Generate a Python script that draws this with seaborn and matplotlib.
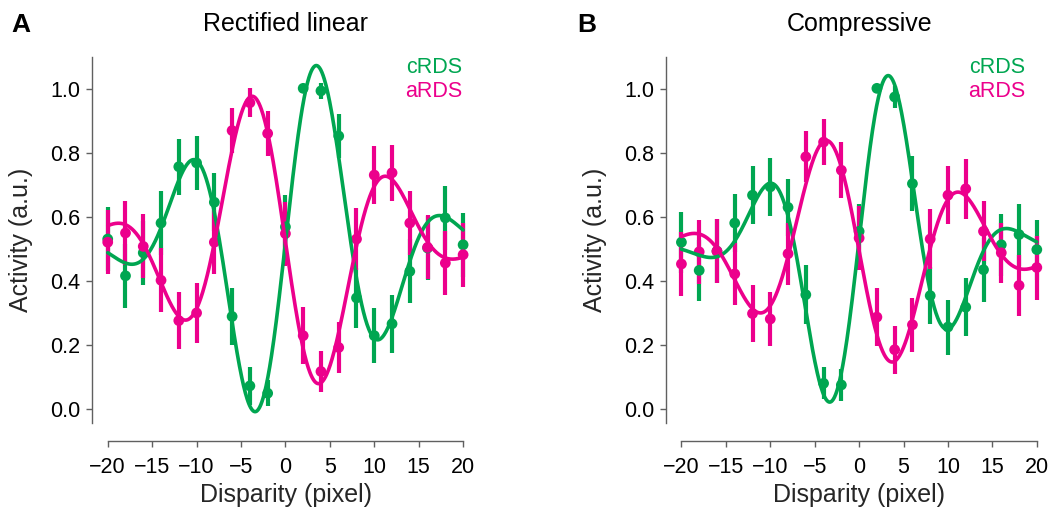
import numpy as np
import pandas as pd
import matplotlib
matplotlib.use("Agg")
import matplotlib.pyplot as plt
import seaborn as sns
from matplotlib.transforms import blended_transform_factory

# ---------------- data ----------------
disparity = [-20, -18, -16, -14, -12, -10, -8, -6, -4, -2, 0,
             2, 4, 6, 8, 10, 12, 14, 16, 18, 20]

lin_c = [0.530, 0.415, 0.487, 0.580, 0.756, 0.768, 0.645, 0.288, 0.071, 0.048, 0.568,
         1.001, 0.993, 0.852, 0.346, 0.228, 0.265, 0.429, 0.502, 0.596, 0.512]
lin_c_err = [0.10, 0.10, 0.10, 0.10, 0.088, 0.085, 0.09, 0.09, 0.06, 0.04, 0.10,
             0.015, 0.025, 0.07, 0.095, 0.085, 0.09, 0.10, 0.10, 0.10, 0.10]
lin_a = [0.520, 0.549, 0.507, 0.401, 0.275, 0.299, 0.520, 0.869, 0.956, 0.860, 0.547,
         0.228, 0.116, 0.191, 0.530, 0.730, 0.737, 0.580, 0.504, 0.455, 0.481]
lin_a_err = [0.10, 0.10, 0.10, 0.10, 0.09, 0.093, 0.10, 0.07, 0.045, 0.07, 0.10,
             0.088, 0.065, 0.08, 0.097, 0.09, 0.088, 0.10, 0.10, 0.10, 0.10]

cmp_c = [0.520, 0.432, 0.492, 0.580, 0.667, 0.693, 0.629, 0.356, 0.079, 0.074, 0.554,
         1.001, 0.974, 0.703, 0.353, 0.255, 0.317, 0.434, 0.512, 0.544, 0.497]
cmp_c_err = [0.095, 0.095, 0.10, 0.09, 0.09, 0.09, 0.09, 0.092, 0.05, 0.05, 0.085,
             0.015, 0.035, 0.085, 0.09, 0.086, 0.09, 0.10, 0.097, 0.097, 0.094]
cmp_a = [0.452, 0.490, 0.492, 0.421, 0.297, 0.280, 0.484, 0.787, 0.833, 0.745, 0.533,
         0.286, 0.184, 0.262, 0.530, 0.667, 0.687, 0.554, 0.487, 0.385, 0.441]
cmp_a_err = [0.10, 0.10, 0.10, 0.097, 0.09, 0.085, 0.097, 0.08, 0.073, 0.087, 0.10,
             0.09, 0.075, 0.085, 0.095, 0.09, 0.093, 0.094, 0.094, 0.095, 0.10]

panel_titles = ["Rectified linear", "Compressive"]
panel_letters = ["A", "B"]
series_names = ["cRDS", "aRDS"]
x_ticks = [-20, -15, -10, -5, 0, 5, 10, 15, 20]
y_ticks = [0.0, 0.2, 0.4, 0.6, 0.8, 1.0]

GREEN = "#00A651"
MAGENTA = "#EC008C"
SPINE = "#606060"


def fit_gabor(x, y):
    """Least-squares Gabor fit: b + exp(-(x-x0)^2/2s^2)(a cos 2pi f x + c sin 2pi f x)."""
    x = np.asarray(x, float)
    y = np.asarray(y, float)

    def search(x0s, ss, fs):
        X0, S, F = np.meshgrid(x0s, ss, fs, indexing="ij")
        X0, S, F = X0.ravel(), S.ravel(), F.ravel()
        env = np.exp(-(x[None, :] - X0[:, None]) ** 2 / (2 * S[:, None] ** 2))
        ph = 2 * np.pi * F[:, None] * x[None, :]
        A = np.stack([np.ones_like(env), env * np.cos(ph), env * np.sin(ph)], axis=2)
        AtA = np.einsum("nki,nkj->nij", A, A) + 1e-9 * np.eye(3)
        Aty = np.einsum("nki,k->ni", A, y)
        coef = np.linalg.solve(AtA, Aty[..., None])[..., 0]
        pred = np.einsum("nki,ni->nk", A, coef)
        sse = ((pred - y) ** 2).sum(axis=1)
        i = np.argmin(sse)
        return X0[i], S[i], F[i], coef[i]

    x0, s, f, coef = search(np.linspace(-4, 4, 33), np.linspace(3, 20, 35),
                            np.linspace(0.03, 0.14, 45))
    for scale in (0.25, 0.06):
        x0, s, f, coef = search(np.linspace(x0 - 4 * scale, x0 + 4 * scale, 17),
                                np.linspace(max(1.5, s - 8 * scale), s + 8 * scale, 17),
                                np.linspace(f - 0.01 * scale * 4, f + 0.01 * scale * 4, 17))

    def model(xx):
        env = np.exp(-(xx - x0) ** 2 / (2 * s ** 2))
        ph = 2 * np.pi * f * xx
        return coef[0] + env * (coef[1] * np.cos(ph) + coef[2] * np.sin(ph))
    return model


# ---------------- figure ----------------
sns.set_theme(style="ticks")
plt.rcParams["font.family"] = ["Liberation Sans", "DejaVu Sans"]

fig = plt.figure(figsize=(10.56, 5.17), dpi=100)
W, H = 1056.0, 517.0
axes = [fig.add_axes([92 / W, (H - 423) / H, 380 / W, 365.7 / H]),
        fig.add_axes([665.7 / W, (H - 423) / H, 380 / W, 365.7 / H])]

panels = [
    (lin_c, lin_c_err, lin_a, lin_a_err),
    (cmp_c, cmp_c_err, cmp_a, cmp_a_err),
]
legend_x = [19.9, 18.7]
letter_x = [11, 577]

xfit = np.linspace(-20, 20, 600)

for k, (ax, (c, ce, a, ae)) in enumerate(zip(axes, panels)):
    for vals, errs, col, name in ((c, ce, GREEN, series_names[0]),
                                  (a, ae, MAGENTA, series_names[1])):
        df = pd.DataFrame({"disparity": disparity, "activity": vals, "err": errs})
        ax.errorbar(df["disparity"], df["activity"], yerr=df["err"], fmt="none",
                    ecolor=col, elinewidth=3.0, capsize=0, zorder=2)
        sns.scatterplot(data=df, x="disparity", y="activity", color=col, s=60,
                        edgecolor="none", linewidth=0, ax=ax, zorder=3, legend=False)
        model = fit_gabor(disparity, vals)
        fit_df = pd.DataFrame({"disparity": xfit, "activity": model(xfit)})
        sns.lineplot(data=fit_df, x="disparity", y="activity", color=col,
                     linewidth=2.6, ax=ax, zorder=4, legend=False)

    ax.set_xlim(-21.77, 21.0)
    ax.set_ylim(-0.045, 1.098)
    ax.set_xticks(x_ticks)
    ax.set_yticks(y_ticks)
    ax.set_yticklabels([f"{v:.1f}" for v in y_ticks])
    ax.spines["top"].set_visible(False)
    ax.spines["right"].set_visible(False)
    ax.spines["bottom"].set_position(("outward", 13))
    ax.spines["bottom"].set_bounds(-20, 20)
    for sp in ("left", "bottom"):
        ax.spines[sp].set_color(SPINE)
        ax.spines[sp].set_linewidth(1.0)
    ax.tick_params(axis="both", direction="out", length=4.5, width=1.0,
                   color=SPINE, labelcolor="black", labelsize=15.5)
    ax.tick_params(axis="x", pad=7)
    ax.tick_params(axis="y", pad=4)

    ax.set_xlabel("Disparity (pixel)", fontsize=18)
    ax.set_ylabel("Activity (a.u.)", fontsize=18)
    ax.xaxis.set_label_coords(0.5095, -0.164)
    ax.yaxis.set_label_coords(-0.154, 0.5)

    tr = blended_transform_factory(ax.transData, ax.transAxes)
    ax.text(0, (423 - 31) / 365.7, panel_titles[k], transform=tr, ha="center",
            va="baseline", fontsize=18, color="black")
    ax.text(legend_x[k], 1.049, series_names[0], ha="right", va="baseline",
            fontsize=15.5, color=GREEN)
    ax.text(legend_x[k], 0.974, series_names[1], ha="right", va="baseline",
            fontsize=15.5, color=MAGENTA)
    fig.text(letter_x[k] / W, 1 - 31.7 / H, panel_letters[k], ha="left",
             va="baseline", fontsize=19, fontweight="bold", color="black")

fig.savefig("out.png", dpi=100)
